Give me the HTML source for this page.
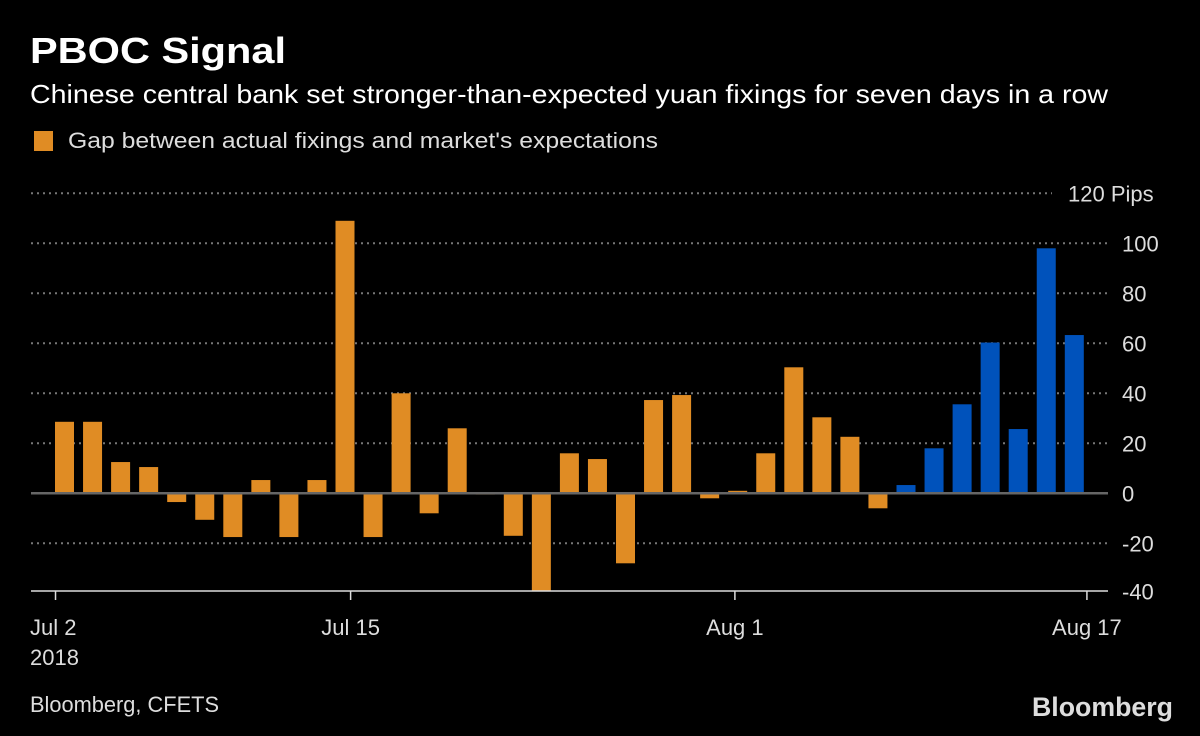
<!DOCTYPE html>
<html><head><meta charset="utf-8"><style>
html,body{margin:0;padding:0;background:#000;}
svg{display:block;font-family:"Liberation Sans",sans-serif;}
</style></head><body>
<svg id="chart" width="1200" height="736" viewBox="0 0 1200 736">
<rect width="1200" height="736" fill="#000"/>
<text x="30" y="63" font-size="36" font-weight="bold" fill="#fff" textLength="256" lengthAdjust="spacingAndGlyphs">PBOC Signal</text>
<text x="30" y="103" font-size="26" fill="#fff" textLength="1078" lengthAdjust="spacingAndGlyphs">Chinese central bank set stronger-than-expected yuan fixings for seven days in a row</text>
<rect x="34" y="131" width="19" height="20" fill="#E08C24"/>
<text x="68" y="148" font-size="22" fill="#ddd" textLength="590" lengthAdjust="spacingAndGlyphs">Gap between actual fixings and market's expectations</text>
<g id="grid"></g><g id="bars"></g><g id="axes"></g>
<text x="30" y="712" font-size="22" fill="#ddd" textLength="189" lengthAdjust="spacingAndGlyphs">Bloomberg, CFETS</text>
<text x="1032" y="716" font-size="27" font-weight="bold" fill="#ddd" textLength="141" lengthAdjust="spacingAndGlyphs">Bloomberg</text>
</svg>
<script>
const values = [28.6,28.6,12.5,10.5,-3.5,-10.6,-17.5,5.3,-17.5,5.3,109,-17.5,40,-8,26,-0.5,-17,-39,16,13.7,-28,37.3,39.3,-2,1,16,50.4,30.4,22.6,-6,3.3,18,35.6,60.3,25.7,98,63.3];
const highlightFrom = 30;
const yTicks = [-40,-20,0,20,40,60,80,100,120];
const xTickLabels = ["Jul 2","Jul 15","Aug 1","Aug 17"];
const xTickIndex = [-0.32,10.2,23.9,36.45];

const NS="http://www.w3.org/2000/svg";
const y0=493.3, pxPer=2.5;
const yScale=v=>y0-v*pxPer;
const firstCenter=64.5, step=28.05, bw=19;
const xScale=i=>firstCenter+i*step;
function mk(tag,attrs,parent){const e=document.createElementNS(NS,tag);for(const k in attrs)e.setAttribute(k,attrs[k]);parent.appendChild(e);return e;}
const grid=document.getElementById('grid'),bars=document.getElementById('bars'),axes=document.getElementById('axes');
yTicks.forEach(t=>{
  const y=yScale(t);
  if(t===-40){}
  else if(t!==0){
    const l=mk('line',{x1:31,x2:t===120?1052:1108,y1:y,y2:y,stroke:'#777','stroke-width':2,'stroke-dasharray':'2 4'},grid);
    
    
  }
  const tx=mk('text',{x:t===120?1068:1122,y:t===-40?yScale(t)+6:y+8,'font-size':22,fill:'#ddd'},axes);
  tx.textContent=t===120?'120 Pips':String(t);
  
  
});
values.forEach((v,i)=>{
  const yTop=Math.min(yScale(v),y0), h=Math.abs(yScale(v)-y0);
  const r=mk('rect',{x:xScale(i)-bw/2,y:yTop,width:bw,height:Math.max(h,0.8),fill:i>=highlightFrom?'#0052BB':'#E08C24'},bars);
  
  
});
const zl=mk('line',{x1:31,x2:1108,y1:y0,y2:y0,stroke:'#666','stroke-width':2.5},axes);


const xa=mk('line',{x1:31,x2:1108,y1:591,y2:591,stroke:'#ddd','stroke-width':1.5},axes);


xTickLabels.forEach((lab,k)=>{
  const x=xScale(xTickIndex[k]);
  const tk=mk('line',{x1:x,x2:x,y1:591,y2:600,stroke:'#ddd','stroke-width':1.5},axes);
  
  
  const t=mk('text',{x:k===0?30:x,y:635,'font-size':22,fill:'#ddd','text-anchor':k===0?'start':'middle'},axes);
  t.textContent=lab;
  
  
});
const yr=mk('text',{x:30,y:665,'font-size':22,fill:'#ddd'},axes);
yr.textContent='2018';


</script>
</body></html>
